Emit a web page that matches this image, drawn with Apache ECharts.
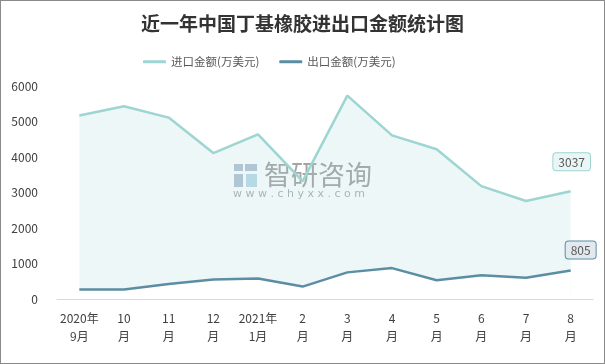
<!DOCTYPE html>
<html><head><meta charset="utf-8">
<script src="https://cdn.jsdelivr.net/npm/echarts@6/dist/echarts.min.js"></script>
<style>
html,body{margin:0;padding:0;background:#fff;}
#c{width:605px;height:364px;box-sizing:border-box;border:1px solid #8a8a8a;}
</style></head><body><div id="c"></div>
<script>
const categories = ['2020年\n9月','10\n月','11\n月','12\n月','2021年\n1月','2\n月','3\n月','4\n月','5\n月','6\n月','7\n月','8\n月'];
const importValues = [5170, 5430, 5110, 4110, 4640, 3320, 5730, 4610, 4220, 3180, 2760, 3037];
const exportValues = [270, 270, 420, 550, 580, 350, 750, 870, 530, 670, 600, 805];
const importName = '进口金额(万美元)';
const exportName = '出口金额(万美元)';
const titleText = '近一年中国丁基橡胶进出口金额统计图';

const importColor = '#9dd5d2';
const exportColor = '#5b8ea3';
const font = "'Noto Sans CJK SC', sans-serif";

function withLastLabel(arr, lab) {
  return arr.map((v, i) => i === arr.length - 1 ? { value: v, label: lab } : v);
}

const chart = echarts.init(document.getElementById('c'), null, {renderer: 'canvas'});
chart.setOption({
  backgroundColor: '#fff',
  animation: false,
  title: {
    text: titleText, left: 'center', top: 8,
    textStyle: {fontFamily: font, fontSize: 19, fontWeight: 'bold', color: '#333'}
  },
  legend: {
    top: 50, left: 137, itemGap: 20, itemWidth: 23, itemHeight: 3,
    textStyle: {fontFamily: font, fontSize: 11.5, color: '#595959'},
    data: [
      {name: importName, icon: 'roundRect'},
      {name: exportName, icon: 'roundRect'}
    ]
  },
  grid: {left: 56, right: 11, top: 85, bottom: 64, containLabel: false},
  xAxis: {
    type: 'category', data: categories, boundaryGap: true,
    axisLine: {lineStyle: {color: '#d9d9d9', width: 1}},
    axisTick: {show: false},
    axisLabel: {fontFamily: font, fontSize: 12, color: '#404040', lineHeight: 18, margin: 10, interval: 0}
  },
  yAxis: {
    type: 'value', min: 0, max: 6000, interval: 1000,
    axisLine: {show: false}, axisTick: {show: false}, splitLine: {show: false},
    axisLabel: {fontFamily: font, fontSize: 12, color: '#404040', margin: 19, formatter: v => String(v)}
  },
  graphic: {
    elements: [
      {type: 'rect', left: 233, top: 163, z: 0, silent: true, shape: {width: 9, height: 7}, style: {fill: '#b6c4d6'}},
      {type: 'rect', left: 244, top: 163, z: 0, silent: true, shape: {width: 12, height: 7}, style: {fill: '#b6c4d6'}},
      {type: 'rect', left: 233, top: 173, z: 0, silent: true, shape: {width: 9, height: 13}, style: {fill: '#b6c4d6'}},
      {type: 'rect', left: 245, top: 173, z: 0, silent: true, shape: {width: 11, height: 13}, style: {fill: '#bcdbe8'}},
      {type: 'text', left: 263, top: 160, z: 0, silent: true,
        style: {text: '智研咨询', fill: '#a4a4a4', fontSize: 27, fontFamily: 'Noto Sans CJK SC'}},
      {type: 'text', left: 232, top: 188, z: 0, silent: true,
        style: {text: 'w w w . c h y x x . c o m', fill: '#aab0b5', fontSize: 11, fontFamily: 'DejaVu Sans'}}
    ]
  },
  series: [
    {
      name: importName, type: 'line',
      data: withLastLabel(importValues, {
        show: true, position: 'top', distance: 21, offset: [1, 0],
        fontFamily: font, fontSize: 12, color: '#595959',
        backgroundColor: '#eaf6f6', borderColor: importColor, borderWidth: 1, borderRadius: 3,
        padding: [3, 5, 2, 5]
      }),
      symbol: 'circle', symbolSize: 0, showSymbol: true,
      lineStyle: {color: importColor, width: 2.5},
      itemStyle: {color: importColor},
      areaStyle: {color: 'rgba(157,213,210,0.26)'},
      z: 2
    },
    {
      name: exportName, type: 'line',
      data: withLastLabel(exportValues, {
        show: true, position: 'top', distance: 12, offset: [10, 0],
        fontFamily: font, fontSize: 12, color: '#595959',
        backgroundColor: '#e2eaef', borderColor: exportColor, borderWidth: 1, borderRadius: 3,
        padding: [3, 5, 2, 5]
      }),
      symbol: 'circle', symbolSize: 0, showSymbol: true,
      lineStyle: {color: exportColor, width: 2.5},
      itemStyle: {color: exportColor},
      areaStyle: {color: '#ffffff', opacity: 1},
      z: 3
    }
  ]
});
</script></body></html>
